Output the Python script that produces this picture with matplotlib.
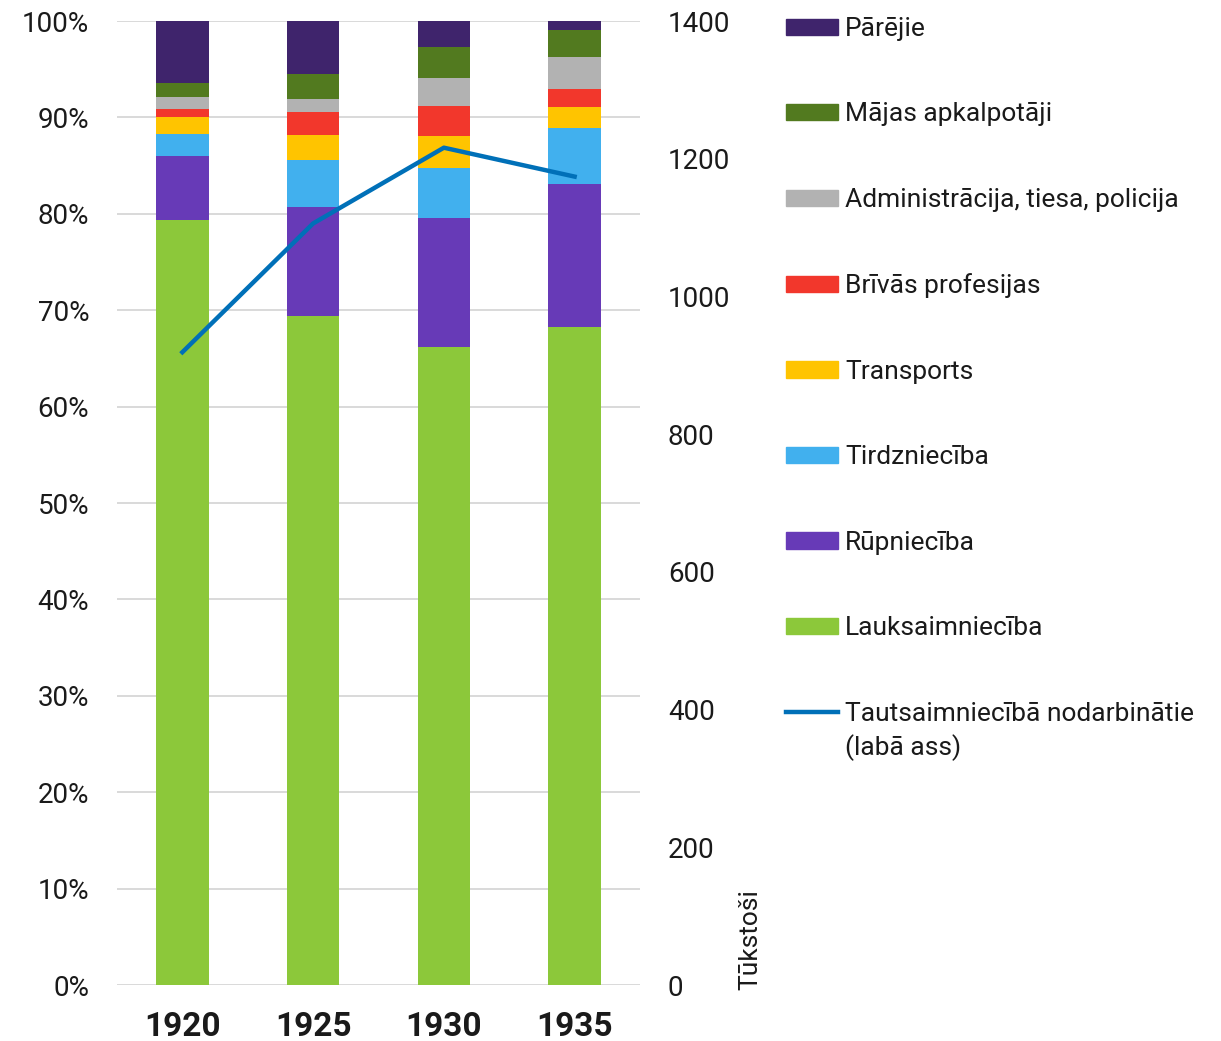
import numpy as np
import matplotlib
matplotlib.use("Agg")
import matplotlib.pyplot as plt
from matplotlib.patches import Patch
from matplotlib.lines import Line2D

plt.rcParams['font.family'] = ['Roboto', 'DejaVu Sans']

years = ['1920', '1925', '1930', '1935']

# nozaru daļas, %
lauksaimnieciba = [79.4, 69.4, 66.2, 68.3]
rupnieciba = [6.6, 11.3, 13.4, 14.8]
tirdznieciba = [2.3, 4.9, 5.2, 5.8]
transports = [1.7, 2.55, 3.3, 2.2]
brivas_prof = [0.9, 2.45, 3.1, 1.8]
administracija = [1.2, 1.3, 2.9, 3.4]
majas_apk = [1.5, 2.6, 3.2, 2.8]
pareji = [6.4, 5.5, 2.7, 0.9]

# nodarbinātie, tūkst.
nodarbinatie = [919, 1106, 1216, 1174]

series = [
    ('Lauksaimniecība', lauksaimnieciba, '#8CC83A'),
    ('Rūpniecība', rupnieciba, '#673AB7'),
    ('Tirdzniecība', tirdznieciba, '#41B0EE'),
    ('Transports', transports, '#FFC400'),
    ('Brīvās profesijas', brivas_prof, '#F2372C'),
    ('Administrācija, tiesa, policija', administracija, '#B2B2B2'),
    ('Mājas apkalpotāji', majas_apk, '#527A1F'),
    ('Pārējie', pareji, '#3F246C'),
]
line_color = '#0070B8'
txt = '#1a1a1a'

W, H = 1221, 1041
fig = plt.figure(figsize=(W / 100, H / 100), dpi=100)
ax = fig.add_axes([117 / W, (H - 985) / H, 523 / W, 964 / H])

x = np.arange(len(years))
bottom = np.zeros(len(years))
for name, vals, col in series:
    ax.bar(x, vals, 0.4, bottom=bottom, color=col, zorder=2)
    bottom += np.array(vals)

ax.set_xlim(-0.5, 3.5)
ax.set_ylim(0, 100)
ax.set_yticks(np.arange(0, 101, 10))
ax.set_yticklabels([f'{v}%' for v in range(0, 101, 10)])
ax.yaxis.grid(True, color='#D9D9D9', linewidth=1.4, zorder=0)
ax.set_axisbelow(True)
for s in ax.spines.values():
    s.set_visible(False)
ax.tick_params(axis='y', length=0, pad=20, labelsize=20, colors=txt)
ax.set_xticks(x)
ax.set_xticklabels(years, fontweight='bold', fontsize=24)
ax.tick_params(axis='x', length=0, pad=19, colors=txt)

ax2 = ax.twinx()
ax2.plot(x, nodarbinatie, color=line_color, linewidth=3.2, zorder=5)
ax2.set_ylim(0, 1400)
ax2.set_yticks(np.arange(0, 1401, 200))
for s in ax2.spines.values():
    s.set_visible(False)
ax2.tick_params(axis='y', length=0, pad=20, labelsize=20, colors=txt)

fig.text(750 / W, (H - 990) / H, 'Tūkstoši', rotation=90, ha='center', va='bottom',
         fontsize=19, color=txt)

handles = [Patch(color=col, label=name) for name, vals, col in series[::-1]]
handles.append(Line2D([0], [0], color=line_color, linewidth=3.2,
                      label='Tautsaimniecībā nodarbinātie'))
fig.legend(handles=handles, loc='upper left', bbox_to_anchor=(786 / W, 1 - 17 / H),
           frameon=False, fontsize=19, handlelength=1.97, handleheight=0.57,
           handletextpad=0.27, labelspacing=2.33, borderpad=0, borderaxespad=0,
           labelcolor=txt)
fig.text(845 / W, 1 - 748 / H, '(labā ass)', ha='left', va='center',
         fontsize=19, color=txt)

fig.savefig('out.png', dpi=100)
